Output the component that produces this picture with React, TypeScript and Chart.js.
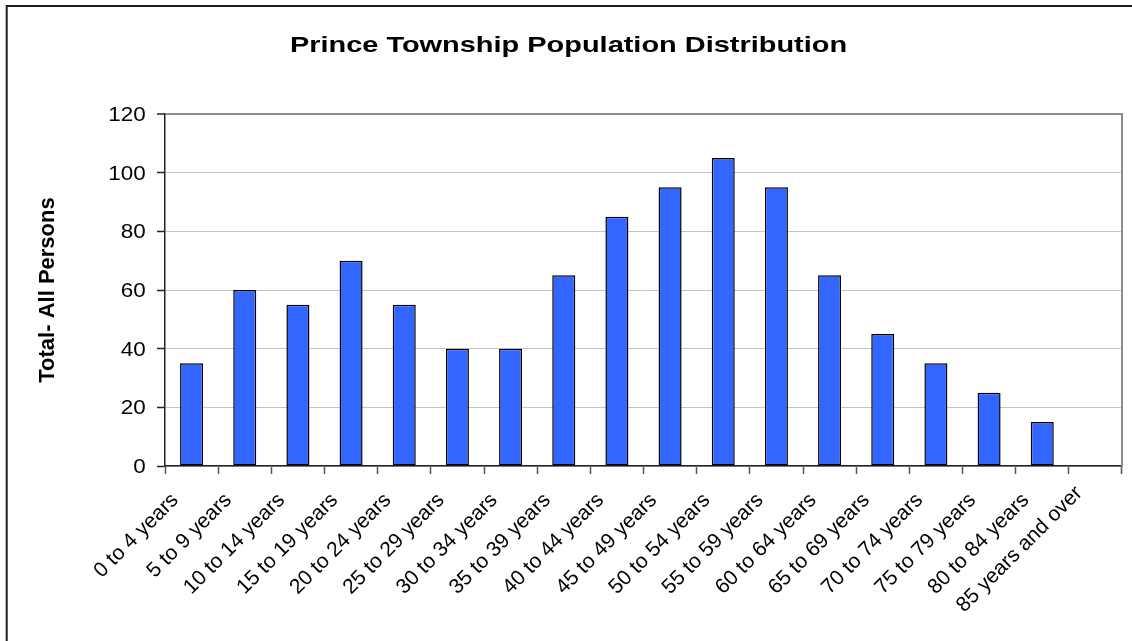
import React, { useEffect, useRef } from "react";
import { Chart, registerables } from "chart.js";

Chart.register(...registerables);

const ageGroups = [
  "0 to 4 years",
  "5 to 9 years",
  "10 to 14 years",
  "15 to 19 years",
  "20 to 24 years",
  "25 to 29 years",
  "30 to 34 years",
  "35 to 39 years",
  "40 to 44 years",
  "45 to 49 years",
  "50 to 54 years",
  "55 to 59 years",
  "60 to 64 years",
  "65 to 69 years",
  "70 to 74 years",
  "75 to 79 years",
  "80 to 84 years",
  "85 years and over",
];

const totalPersons = [35, 60, 55, 70, 55, 40, 40, 65, 85, 95, 105, 95, 65, 45, 35, 25, 15, 0];

const yTicks = [0, 20, 40, 60, 80, 100, 120];

const chartTitle = "Prince Township Population Distribution";
const yAxisTitle = "Total- All Persons";

const W = 1132;
const H = 641;
const FONT = "'Liberation Sans', Arial, Helvetica, sans-serif";

// Draws a string with an extra horizontal stretch applied to the glyphs.
function stretchedText(
  ctx: CanvasRenderingContext2D,
  text: string,
  x: number,
  y: number,
  stretch: number,
  align: CanvasTextAlign
) {
  ctx.save();
  ctx.translate(x, y);
  ctx.scale(stretch, 1);
  ctx.textAlign = align;
  ctx.textBaseline = "alphabetic";
  ctx.fillText(text, 0, 0);
  ctx.restore();
}

// Frame, plot border and all text of the chart, placed from the chart's scales.
const decorPlugin = {
  id: "decor",
  afterDraw(chart: any) {
    const { ctx, chartArea } = chart;
    const xs = chart.scales.x;
    const ys = chart.scales.y;
    ctx.save();

    // right edge of the plot area
    ctx.strokeStyle = "#8c8c8c";
    ctx.lineWidth = 2;
    ctx.beginPath();
    ctx.moveTo(chartArea.right, chartArea.top - 1);
    ctx.lineTo(chartArea.right, chartArea.bottom);
    ctx.stroke();

    // outer frame (top and left edges)
    ctx.strokeStyle = "#1e1e1e";
    ctx.lineWidth = 2;
    ctx.beginPath();
    ctx.moveTo(6.7, H + 2);
    ctx.lineTo(6.7, 6);
    ctx.lineTo(W + 2, 6);
    ctx.stroke();

    ctx.fillStyle = "#000";

    // chart title
    ctx.font = `bold 22px ${FONT}`;
    stretchedText(ctx, chartTitle, W / 2 + 2.5, 52.3, 1.315, "center");

    // value axis labels
    ctx.font = `19.5px ${FONT}`;
    yTicks.forEach((v) => {
      stretchedText(ctx, String(v), xs.left - 19.3, ys.getPixelForValue(v) + 7, 1.15, "right");
    });

    // value axis title
    ctx.save();
    ctx.translate(53.5, (chartArea.top + chartArea.bottom) / 2);
    ctx.rotate(-Math.PI / 2);
    ctx.font = `bold 22px ${FONT}`;
    ctx.textAlign = "center";
    ctx.textBaseline = "alphabetic";
    ctx.fillText(yAxisTitle, 0, 0);
    ctx.restore();

    // category labels, rotated 45 degrees; a label that would run past the
    // bottom of the label band is lifted so that it stays inside it
    ctx.font = `21px ${FONT}`;
    const diag = Math.SQRT1_2;
    const bandBottom = 613;
    ageGroups.forEach((label, i) => {
      const cx = xs.getPixelForTick(i);
      const w = ctx.measureText(label).width;
      let y = chartArea.bottom + 35;
      if (y + w * diag > bandBottom) y = bandBottom - w * diag;
      ctx.save();
      ctx.translate(cx - 12.3, y);
      ctx.rotate(-Math.PI / 4);
      ctx.textAlign = "right";
      ctx.textBaseline = "alphabetic";
      ctx.fillText(label, 0, 0);
      ctx.restore();
    });

    ctx.restore();
  },
};

export default function App() {
  const canvasRef = useRef<HTMLCanvasElement | null>(null);

  useEffect(() => {
    document.body.style.margin = "0";
    document.body.style.overflow = "hidden";
    const canvas = canvasRef.current;
    if (!canvas) return;

    const chart = new Chart(canvas, {
      type: "bar",
      data: {
        labels: ageGroups,
        datasets: [
          {
            label: yAxisTitle,
            data: totalPersons,
            backgroundColor: "#3366ff",
            borderColor: "#000000",
            borderWidth: 1.5,
            borderSkipped: false,
            barPercentage: 0.433,
            categoryPercentage: 1,
          },
        ],
      },
      options: {
        responsive: false,
        animation: false,
        devicePixelRatio: 1,
        layout: { padding: { left: 0, top: 114, right: W - 1122, bottom: 0 } },
        plugins: {
          legend: { display: false },
          tooltip: { enabled: false },
          title: { display: false },
        },
        scales: {
          x: {
            type: "category",
            offset: true,
            grid: {
              display: true,
              offset: true,
              drawOnChartArea: false,
              drawTicks: true,
              tickLength: 8,
              tickColor: "#555",
              tickWidth: 1.5,
            },
            border: { display: true, color: "#222", width: 1.5 },
            ticks: { display: false },
            afterFit(scale: any) {
              scale.height = H - 466;
            },
          },
          y: {
            min: 0,
            max: 120,
            afterBuildTicks(scale: any) {
              scale.ticks = yTicks.map((v) => ({ value: v }));
            },
            grid: {
              color: (c: any) => (c.tick && c.tick.value === 120 ? "#8c8c8c" : "#c4c4c4"),
              lineWidth: (c: any) => (c.tick && c.tick.value === 120 ? 2 : 1),
              tickLength: 8,
              tickColor: "#222",
              tickWidth: 1.5,
            },
            border: { display: true, color: "#222", width: 1.5 },
            ticks: { display: false },
            afterFit(scale: any) {
              scale.width = 165;
            },
          },
        },
      },
      plugins: [decorPlugin],
    });

    return () => chart.destroy();
  }, []);

  return (
    <div style={{ position: "absolute", left: 0, top: 0, width: W, height: H, background: "#fff" }}>
      <canvas ref={canvasRef} width={W} height={H} />
    </div>
  );
}
